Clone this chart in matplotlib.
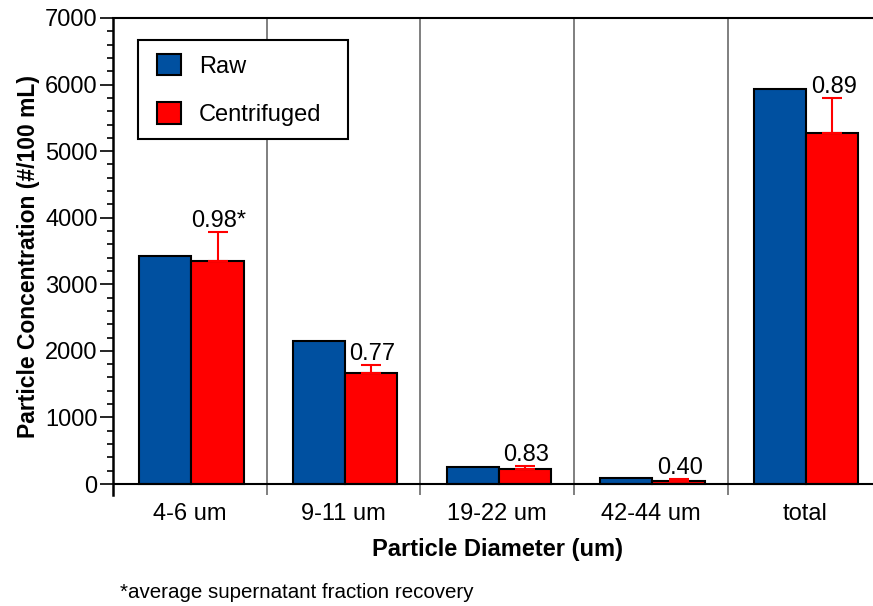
import numpy as np
import matplotlib.pyplot as plt
from matplotlib.patches import Rectangle

plt.rcParams['font.family'] = ['Liberation Sans', 'DejaVu Sans']

categories = ['4-6 um', '9-11 um', '19-22 um', '42-44 um', 'total']
raw = [3430, 2150, 260, 95, 5940]
centrifuged = [3350, 1670, 220, 50, 5280]
cent_err = [440, 120, 50, 20, 515]
recovery = ['0.98*', '0.77', '0.83', '0.40', '0.89']

blue = '#0050a0'
red = '#ff0000'

W, H = 873, 606
fig = plt.figure(figsize=(W/100, H/100), dpi=100)
ax = fig.add_axes([113/W, 1 - 495/H, 768.5/W, 477/H])

x = np.arange(len(categories))
w = 0.34
ax.bar(x - w/2 + 0.01, raw, w, color=blue, edgecolor='black', linewidth=1.5,
       label='Raw', zorder=3)
ax.bar(x + w/2 + 0.01, centrifuged, w, color=red, edgecolor='black', linewidth=1.5,
       label='Centrifuged', zorder=3)
ax.errorbar(x + w/2 + 0.01, centrifuged, yerr=[np.zeros(len(x)), cent_err],
            fmt='none', ecolor=red, elinewidth=1.5, capsize=7.5, capthick=1.5, zorder=4)

for xi, yi, e, t in zip(x, centrifuged, cent_err, recovery):
    ax.annotate(t, (xi + w/2 + 0.01, yi + e), xytext=(1, 0), textcoords='offset points',
                ha='center', va='bottom', fontsize=17)

ax.set_xlim(-0.5, 4.5)
ax.set_ylim(-165, 7000)

# group dividers
for d in x[1:] - 0.5:
    ax.axvline(d, color='#6a6a6a', linewidth=1.2, zorder=1)
ax.axhline(0, color='black', linewidth=1.5, zorder=5)

ax.spines['bottom'].set_visible(False)
ax.spines['right'].set_visible(False)
ax.spines['left'].set_linewidth(1.8)
ax.spines['top'].set_linewidth(1.5)

ax.set_yticks(np.arange(0, 7001, 1000))
ax.set_yticks(np.arange(0, 7001, 200), minor=True)
ax.tick_params(axis='y', which='major', length=9.5, width=1.2, labelsize=17, pad=1.5)
ax.tick_params(axis='y', which='minor', length=4.5, width=1.2)

ax.set_xticks(x)
ax.set_xticklabels(categories)
ax.tick_params(axis='x', which='major', length=0, labelsize=17, pad=6)

ax.set_xlabel('Particle Diameter (um)', fontsize=17, fontweight='bold', labelpad=9)
ax.set_ylabel('Particle Concentration (#/100 mL)', fontsize=16.5, fontweight='bold', labelpad=4)

# legend box drawn by hand so the padding can differ left/right and top/bottom
ax.add_patch(Rectangle((138/W, 1 - 139/H), 210/W, 99/H, transform=fig.transFigure,
                       facecolor='white', edgecolor='black', linewidth=1.5,
                       clip_on=False, zorder=6))
leg = ax.legend(loc='upper left', bbox_to_anchor=(157/W, 1 - 54/H),
                bbox_transform=fig.transFigure, borderaxespad=0, borderpad=0,
                fontsize=17, frameon=False, handlelength=1.0, handleheight=1.0,
                handletextpad=0.78, labelspacing=1.05)
leg.set_zorder(7)

fig.text(120/W, 1 - 592/H, '*average supernatant fraction recovery', fontsize=14.75,
         va='center', ha='left')

fig.savefig('out.png', dpi=100)
